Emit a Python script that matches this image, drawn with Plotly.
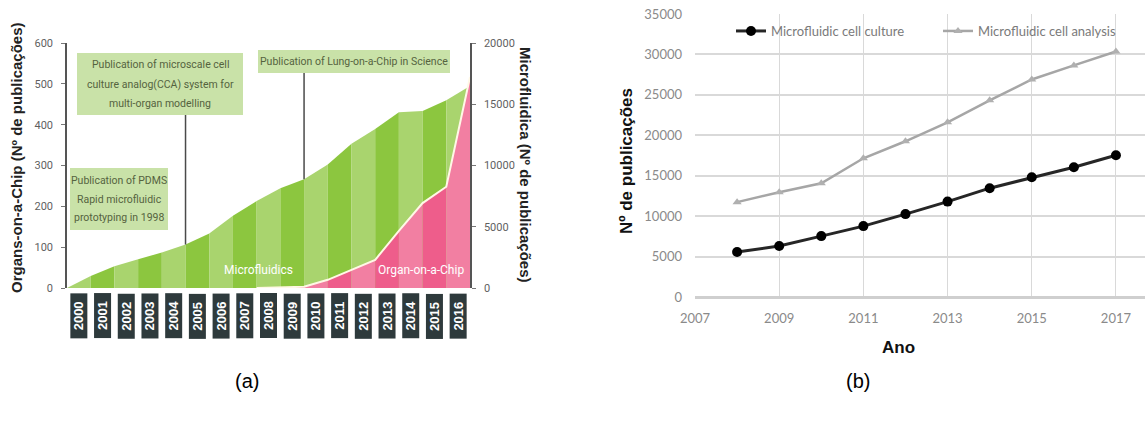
import plotly.graph_objects as go

W, H = 1145, 421

# ---------------- Panel (a) data ----------------
years_a = list(range(2000, 2017))
# Microfluidics publications (right axis), value at end of each year
micro_pubs = [970, 1770, 2340, 2900, 3550, 4440, 5890, 7100, 8150, 8870,
              10080, 11770, 12980, 14350, 14440, 15320, 16500]
# Organ-on-a-Chip publications (left axis), value at end of each year
ooc_pubs = [0, 0, 0, 0, 0, 0, 0, 0, 1, 3, 20, 44, 69, 140, 208, 248, 517]

event_lines = [
    ["Publication of PDMS", "Rapid microfluidic", "prototyping in 1998"],
    ["Publication of microscale cell", "culture analog(CCA) system for", "multi-organ modelling"],
    ["Publication of Lung-on-a-Chip in Science"],
]
event_years = [None, 2004, 2009]

# ---------------- Panel (b) data ----------------
years_b = list(range(2008, 2018))
cell_culture = [5560, 6300, 7530, 8770, 10250, 11800, 13460, 14800, 16050, 17530]
cell_analysis = [11730, 12960, 14070, 17160, 19260, 21600, 24320, 26900, 28640, 30370]

# ---------------- geometry helpers ----------------
def px(x):
    return x / W

def py(y):
    return 1 - y / H

XA = [px(67), px(470)]
YA = [py(288), py(43)]
XB = [px(695), 1.0]
YB = [py(297), py(14)]

COND = "Roboto, Liberation Sans Narrow, sans-serif"
ARIAL = "Liberation Sans, Arial, sans-serif"
CAL = "Lato, Carlito, Calibri, sans-serif"

fig = go.Figure()

GREEN_D, GREEN_L = "#8cc63f", "#a9d46e"
PINK_D, PINK_L = "#ee5d8b", "#f27fa2"

# green stripes (microfluidics, yaxis 'y' shown on right)
prev = 0
for i, yr in enumerate(years_a):
    v = micro_pubs[i]
    fig.add_trace(go.Scatter(
        x=[yr - 0.5, yr - 0.5, yr + 0.5, yr + 0.5, yr - 0.5],
        y=[0, prev, v, 0, 0], fill="toself", mode="none",
        fillcolor=GREEN_L if yr % 2 == 0 else GREEN_D,
        xaxis="x", yaxis="y", showlegend=False, hoverinfo="skip"))
    prev = v

# pink stripes (organ-on-a-chip, yaxis 'y2' shown on left)
prev = 0
for i, yr in enumerate(years_a):
    v = ooc_pubs[i]
    if v > 0 or prev > 0:
        fig.add_trace(go.Scatter(
            x=[yr - 0.5, yr - 0.5, yr + 0.5, yr + 0.5, yr - 0.5],
            y=[0, prev, v, 0, 0], fill="toself", mode="none",
            fillcolor=PINK_L if yr % 2 == 0 else PINK_D,
            xaxis="x", yaxis="y2", showlegend=False, hoverinfo="skip"))
    prev = v

# white outline on top of pink area
first = next(i for i, v in enumerate(ooc_pubs) if v > 0)
fig.add_trace(go.Scatter(
    x=[years_a[first] - 0.5] + [y + 0.5 for y in years_a[first:]],
    y=[0] + ooc_pubs[first:], mode="lines",
    line=dict(color="#fff8e6", width=2),
    xaxis="x", yaxis="y2", showlegend=False, hoverinfo="skip"))

# ---------------- Panel (b) traces ----------------
fig.add_trace(go.Scatter(
    x=years_b, y=cell_culture, mode="lines+markers", name="Microfluidic cell culture",
    line=dict(color="#262626", width=3), marker=dict(color="#000000", size=10, symbol="circle"),
    xaxis="x2", yaxis="y3", legend="legend"))
fig.add_trace(go.Scatter(
    x=years_b, y=cell_analysis, mode="lines+markers", name="Microfluidic cell analysis",
    line=dict(color="#a6a6a6", width=2.5), marker=dict(color="#b0b0b0", size=8, symbol="triangle-up"),
    xaxis="x2", yaxis="y3", legend="legend2"))

annotations = []
shapes = []

def ann(x, y, text, **kw):
    d = dict(x=x, y=y, xref="paper", yref="paper", text=text, showarrow=False,
             xanchor="center", yanchor="middle")
    d.update(kw)
    annotations.append(d)

# year label boxes
for yr in years_a:
    annotations.append(dict(
        x=yr, xref="x", y=py(316), yref="paper", text="<b>%d</b>" % yr,
        textangle=-90, showarrow=False, bgcolor="#2e3a3c",
        font=dict(family=ARIAL, size=13, color="white"),
        width=42, height=14, borderpad=1, xanchor="center", yanchor="middle"))

# event boxes: (left, top, right, bottom, line y positions)
BOX_BG = "#c9e2a8"
BOX_TXT = "#55633f"
box_geo = [
    (70, 168, 168, 230, [180, 199, 218]),
    (77, 53, 243, 115, [65, 84, 104]),
    (258, 50, 450, 73, [61.5]),
]
for lines, (l, t, r, b, ly) in zip(event_lines, box_geo):
    shapes.append(dict(type="rect", xref="paper", yref="paper", x0=px(l), x1=px(r),
                       y0=py(b), y1=py(t), fillcolor=BOX_BG, line=dict(width=0), layer="above"))
    for txt, yy in zip(lines, ly):
        ann(px((l + r) / 2), py(yy), txt, font=dict(family=COND, size=10.5, color=BOX_TXT))

# connector lines from event boxes down to microfluidics area
def green_at(xv):
    xs = [years_a[0] - 0.5] + [y + 0.5 for y in years_a]
    ys = [0] + micro_pubs
    for j in range(len(xs) - 1):
        if xs[j] <= xv <= xs[j + 1]:
            t = (xv - xs[j]) / (xs[j + 1] - xs[j])
            return ys[j] + t * (ys[j + 1] - ys[j])
    return 0

for ey, (l, t, r, b, ly) in zip(event_years, box_geo):
    if ey is None:
        continue
    xv = ey + 0.5
    gv = green_at(xv)
    y0 = YA[0] + gv / 20000 * (YA[1] - YA[0])
    shapes.append(dict(type="line", xref="x", yref="paper", x0=xv, x1=xv,
                       y0=y0, y1=py(b), line=dict(color="#4a4a4a", width=1.5)))

# area labels
ann(px(258), py(270), "Microfluidics", font=dict(family=COND, size=12, color="white"))
ann(px(421), py(270), "Organ-on-a-Chip", font=dict(family=COND, size=12, color="white"))

# axis titles panel a
ann(px(17), py(158), "<b>Organs-on-a-Chip (Nº de publicações)</b>", textangle=-90,
    font=dict(family=ARIAL, size=15, color="#222"))
ann(px(526), py(165), "<b>Microfluidica (Nº de publicações)</b>", textangle=90,
    font=dict(family=ARIAL, size=15, color="#222"))

# panel b axis titles
ann(px(627), py(161), "<b>Nº de publicações</b>", textangle=-90,
    font=dict(family=ARIAL, size=17, color="#111"))
ann(px(898), py(347), "<b>Ano</b>", font=dict(family=ARIAL, size=17, color="#111"))

# captions
ann(px(247), py(381), "(a)", font=dict(family=ARIAL, size=20, color="#000"))
ann(px(858), py(381), "(b)", font=dict(family=ARIAL, size=20, color="#000"))

fig.update_layout(
    width=W, height=H, margin=dict(l=0, r=0, t=0, b=0, autoexpand=False),
    paper_bgcolor="white", plot_bgcolor="white",
    showlegend=True,
    xaxis=dict(domain=XA, range=[1999.5, 2016.5], showticklabels=False, showgrid=False,
               zeroline=False, showline=False, anchor="y", fixedrange=True),
    yaxis=dict(domain=YA, range=[0, 20000], side="right", anchor="x",
               tickvals=[0, 5000, 10000, 15000, 20000], tickformat="d", showgrid=False, zeroline=False,
               showline=True, linecolor="#555", linewidth=1.5, ticks="outside", ticklen=4,
               tickcolor="#777", ticklabelstandoff=6,
               tickfont=dict(family=COND, size=11, color="#5f5f5f")),
    yaxis2=dict(domain=YA, range=[0, 600], side="left", overlaying="y", anchor="x",
                tickvals=[0, 100, 200, 300, 400, 500, 600], tickformat="d", showgrid=False, zeroline=False,
                showline=True, linecolor="#555", linewidth=1.5, ticks="outside", ticklen=4,
                tickcolor="#777", ticklabelstandoff=6,
                tickfont=dict(family=COND, size=11, color="#5f5f5f")),
    xaxis2=dict(domain=XB, range=[2007, 2017.69], anchor="y3", tickvals=[2007, 2009, 2011, 2013, 2015, 2017],
                tickformat="d", showgrid=True, gridcolor="#d9d9d9", gridwidth=1, zeroline=False, showline=False,
                ticks="", ticklabelstandoff=12, tickfont=dict(family=CAL, size=13, color="#8a8a8a")),
    yaxis3=dict(domain=YB, range=[0, 35000], anchor="x2", dtick=5000, tickformat="d",
                showgrid=True, gridcolor="#d9d9d9", gridwidth=1.5, zeroline=True,
                zerolinecolor="#cfcfcf", zerolinewidth=2.5, showline=False,
                ticks="", ticklabelstandoff=12, tickfont=dict(family=CAL, size=13, color="#8a8a8a")),
    legend=dict(x=px(731), y=py(31), xanchor="left", yanchor="middle", orientation="h",
                bgcolor="rgba(0,0,0,0)", font=dict(family=CAL, size=13, color="#7a7a7a"),
                itemwidth=30, tracegroupgap=0),
    legend2=dict(x=px(938), y=py(31), xanchor="left", yanchor="middle", orientation="h",
                 bgcolor="rgba(0,0,0,0)", font=dict(family=CAL, size=13, color="#7a7a7a"),
                 itemwidth=30, tracegroupgap=0),
    annotations=annotations, shapes=shapes,
)

fig.write_html("out.html",
               post_script="document.body.style.margin='0px';document.body.style.overflow='hidden';")
